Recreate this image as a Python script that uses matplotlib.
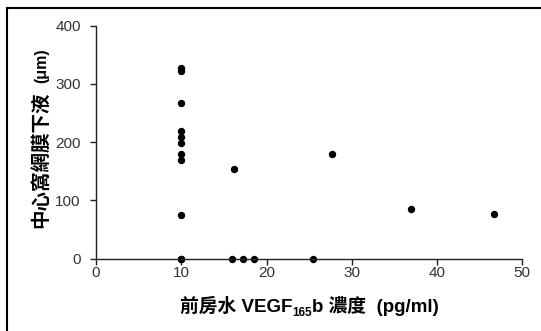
import matplotlib
matplotlib.use("Agg")
import matplotlib.pyplot as plt
from matplotlib.lines import Line2D

# VEGF165b 濃度 (pg/ml) と 中心窩網膜下液 (μm)
vegf = [10, 10, 10, 10, 10, 10, 10, 10, 10, 10, 10,
        16.2, 15.9, 17.3, 18.5, 25.4, 27.7, 37.0, 46.7]
srf = [327, 322, 268, 220, 209, 199, 179, 169, 75, 0, 0,
       154, 0, 0, 0, 0, 179, 86, 77]

x_ticks = [0, 10, 20, 30, 40, 50]
y_ticks = [0, 100, 200, 300, 400]

fams = ['Liberation Sans', 'Noto Sans CJK TC', 'DejaVu Sans']
plt.rcParams['font.family'] = fams

fig = plt.figure(figsize=(5.41, 3.31), dpi=100)
ax = fig.add_axes([96 / 541, 1 - 258.7 / 331, 426.3 / 541, 233 / 331])

ax.plot(vegf, srf, 'o', color='black', markersize=4.3, clip_on=False)

ax.set_xlim(0, 50)
ax.set_ylim(0, 400)
ax.set_xticks(x_ticks)
ax.set_yticks(y_ticks)
for s in ['top', 'right']:
    ax.spines[s].set_visible(False)
for s in ['left', 'bottom']:
    ax.spines[s].set_linewidth(1.0)
    ax.spines[s].set_color('#222222')
ax.tick_params(direction='out', length=4, width=1.0, color='#222222',
               labelsize=11, labelcolor='#333333')
ax.tick_params(axis='y', pad=7)
ax.tick_params(axis='x', pad=1.5)

# y ラベル
fig.text(41 / 541, 1 - 159.5 / 331, '中心窩網膜下液', rotation=90,
         ha='center', va='center', fontsize=14, fontweight='bold')
fig.text(42 / 541, 1 - 66 / 331, '(μm)', rotation=90,
         ha='center', va='center', fontsize=11.5, fontweight='bold')

# x ラベル (下付き 165)
t1 = fig.text(0.3, 1 - 312 / 331, '前房水 VEGF', fontsize=13.5,
              fontweight='bold', va='baseline', ha='left')
t2 = ax.annotate('165', xy=(1, 0), xycoords=t1, xytext=(0, -2),
                 textcoords='offset points', ha='left', va='bottom',
                 fontsize=8.5, fontweight='bold')
t3 = ax.annotate('b 濃度  (pg/ml)', xy=(1, 0), xycoords=(t2, t1),
                 ha='left', va='bottom', fontsize=13.5, fontweight='bold')

fig.canvas.draw()
r = fig.canvas.get_renderer()
left = t1.get_window_extent(r).x0
right = t3.get_window_extent(r).x1
center = (183 + 435) / 2
t1.set_x((center - (right - left) / 2) / 541)

# 枠線 (上と左)
fig.add_artist(Line2D([7 / 541, 7 / 541], [0, 1 - 7.5 / 331],
                      transform=fig.transFigure, color='black', lw=1.5))
fig.add_artist(Line2D([7 / 541, 1], [1 - 7.5 / 331, 1 - 7.5 / 331],
                      transform=fig.transFigure, color='black', lw=1.5))

fig.savefig('out.png', dpi=100)
